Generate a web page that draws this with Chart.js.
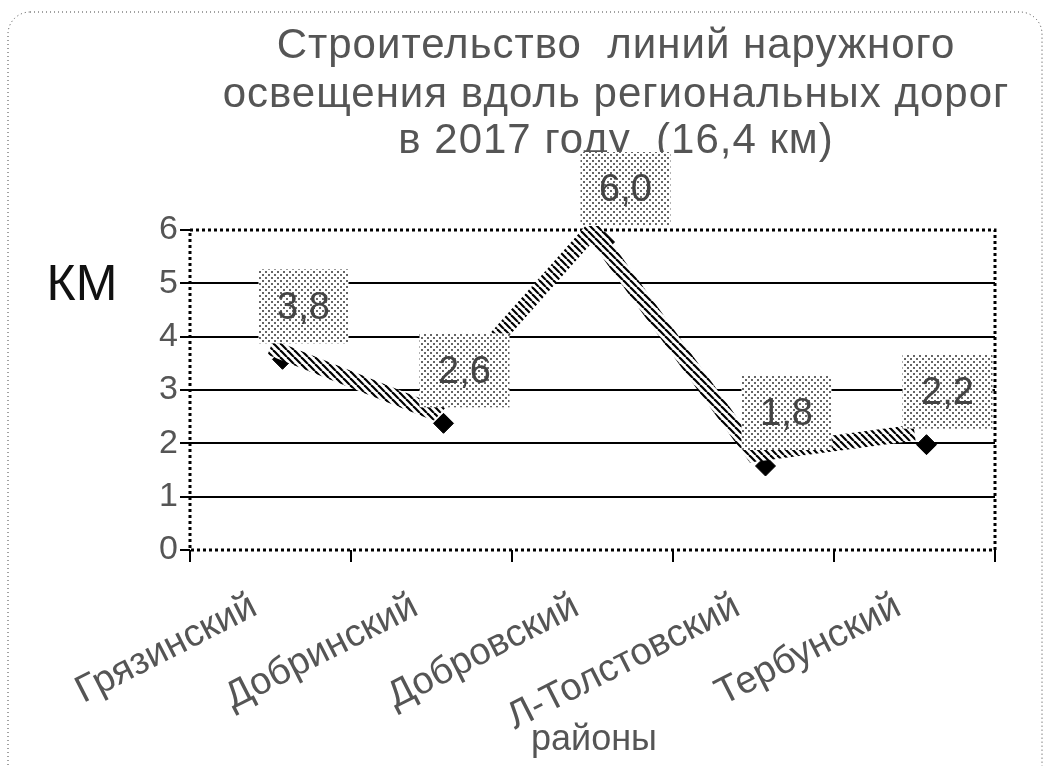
<!DOCTYPE html>
<html lang="ru">
<head>
  <meta charset="UTF-8">
  <title>Строительство линий наружного освещения</title>
  <script src="https://cdn.jsdelivr.net/npm/chart.js"></script>
  <style>
    html, body { margin: 0; padding: 0; background: #fff; }
    #wrap { position: relative; width: 1052px; height: 766px; }
  </style>
</head>
<body>
<div id="wrap"><canvas id="chart" width="1052" height="766"></canvas></div>
<script>
// данные
const districts = ['Грязинский', 'Добринский', 'Добровский', 'Л-Толстовский', 'Тербунский'];
const kmValues = [3.8, 2.6, 6.0, 1.8, 2.2];
const valueLabels = ['3,8', '2,6', '6,0', '1,8', '2,2'];
const titleLines = ['Строительство  линий наружного', 'освещения вдоль региональных дорог', 'в 2017 году  (16,4 км)'];
const yTitle = 'КМ';
const xTitle = 'районы';

const FONT = "'Liberation Sans', Arial, sans-serif";
const GREY = '#555';

// штриховка для линии
function hatchPattern() {
  const c = document.createElement('canvas');
  c.width = 7; c.height = 7;
  const g = c.getContext('2d');
  g.fillStyle = '#fff';
  g.fillRect(0, 0, 7, 7);
  g.strokeStyle = '#000';
  g.lineWidth = 2.2;
  for (let k = -7; k <= 7; k += 7) {
    g.beginPath();
    g.moveTo(k, 0);
    g.lineTo(k + 7, 7);
    g.stroke();
  }
  return g.createPattern(c, 'repeat');
}

// точечная заливка для подписей
function dotPattern() {
  const c = document.createElement('canvas');
  c.width = 6; c.height = 6;
  const g = c.getContext('2d');
  g.fillStyle = '#fff';
  g.fillRect(0, 0, 6, 6);
  g.fillStyle = '#666';
  g.fillRect(1, 1, 2, 2);
  g.fillRect(4, 4, 2, 2);
  return g.createPattern(c, 'repeat');
}

const ctx = document.getElementById('chart').getContext('2d');
const hatch = hatchPattern();
const dots = dotPattern();

const decorPlugin = {
  id: 'decor',
  beforeDraw(chart) {
    const c = chart.ctx;
    c.save();
    c.fillStyle = '#fff';
    c.fillRect(0, 0, chart.width, chart.height);
    // внешняя рамка
    c.strokeStyle = '#444';
    c.lineWidth = 1;
    c.setLineDash([1, 3]);
    c.beginPath();
    c.roundRect(8, 12, 1034, 800, 22);
    c.stroke();
    c.setLineDash([]);
    // заголовок
    c.fillStyle = GREY;
    c.font = '42px ' + FONT;
    c.letterSpacing = '1px';
    c.textAlign = 'center';
    c.textBaseline = 'middle';
    const ys = [46, 95, 141];
    titleLines.forEach((t, i) => c.fillText(t, 616, ys[i], 800));
    c.letterSpacing = '0px';
    // КМ
    c.fillStyle = '#111';
    c.font = '50px ' + FONT;
    c.fillText(yTitle, 82, 286);
    // районы
    c.fillStyle = GREY;
    c.font = '36px ' + FONT;
    c.fillText(xTitle, 594, 740);
    c.restore();
  },
  beforeDatasetsDraw(chart) {
    const c = chart.ctx;
    const a = chart.chartArea;
    c.save();
    c.strokeStyle = '#000';
    c.lineWidth = 3;
    c.setLineDash([3, 3]);
    c.strokeRect(a.left, a.top, a.right - a.left, a.bottom - a.top);
    c.restore();
  },
  afterDatasetsDraw(chart) {
    // подписи значений
    const c = chart.ctx;
    const meta = chart.getDatasetMeta(0);
    c.save();
    c.font = '38px ' + FONT;
    c.textAlign = 'center';
    c.textBaseline = 'middle';
    meta.data.forEach((p, i) => {
      const w = 90, h = 74;
      const x0 = p.x - 12, y0 = p.y - 4 - h;
      c.fillStyle = dots;
      c.fillRect(x0, y0, w, h);
      c.fillStyle = '#444';
      c.fillText(valueLabels[i], x0 + w / 2, y0 + h / 2 + 2);
    });
    c.restore();
  },
  beforeDatasetDraw(chart, args) {
    if (args.index === 1) {
      chart.ctx.save();
      chart.ctx.translate(12, 12);
    }
  },
  afterDatasetDraw(chart, args) {
    if (args.index === 1) chart.ctx.restore();
  }
};

new Chart(ctx, {
  type: 'line',
  data: {
    labels: districts,
    datasets: [{
      data: kmValues,
      borderColor: hatch,
      borderWidth: 16,
      borderCapStyle: 'butt',
      borderJoinStyle: 'miter',
      pointRadius: 0,
      tension: 0,
      clip: false
    }, {
      data: kmValues,
      showLine: false,
      pointStyle: 'rectRot',
      pointRadius: 10,
      pointBackgroundColor: '#000',
      pointBorderColor: '#000',
      clip: false
    }]
  },
  options: {
    responsive: false,
    animation: false,
    layout: { padding: { left: 90, right: 57, top: 230, bottom: 6 } },
    plugins: {
      legend: { display: false },
      tooltip: { enabled: false },
      title: { display: false }
    },
    scales: {
      x: {
        offset: true,
        grid: {
          offset: true,
          drawOnChartArea: false,
          drawTicks: true,
          tickLength: 12,
          color: '#000',
          lineWidth: 2
        },
        border: { display: false },
        ticks: {
          autoSkip: false,
          maxRotation: 27,
          minRotation: 27,
          padding: 22,
          labelOffset: -16,
          color: GREY,
          font: { family: FONT, size: 38 }
        },
        afterFit(s) { s.height = 210; }
      },
      y: {
        min: 0,
        max: 6,
        grid: {
          color: '#000',
          lineWidth: c => (c.tick && (c.tick.value === 0 || c.tick.value === 6)) ? 0 : 2,
          tickLength: 10,
          tickColor: '#000',
          tickWidth: 2
        },
        border: { display: false },
        ticks: {
          stepSize: 1,
          padding: 2,
          color: GREY,
          font: { family: FONT, size: 34 }
        },
        afterFit(s) { s.width = 100; }
      }
    }
  },
  plugins: [decorPlugin]
});
</script>
</body>
</html>
